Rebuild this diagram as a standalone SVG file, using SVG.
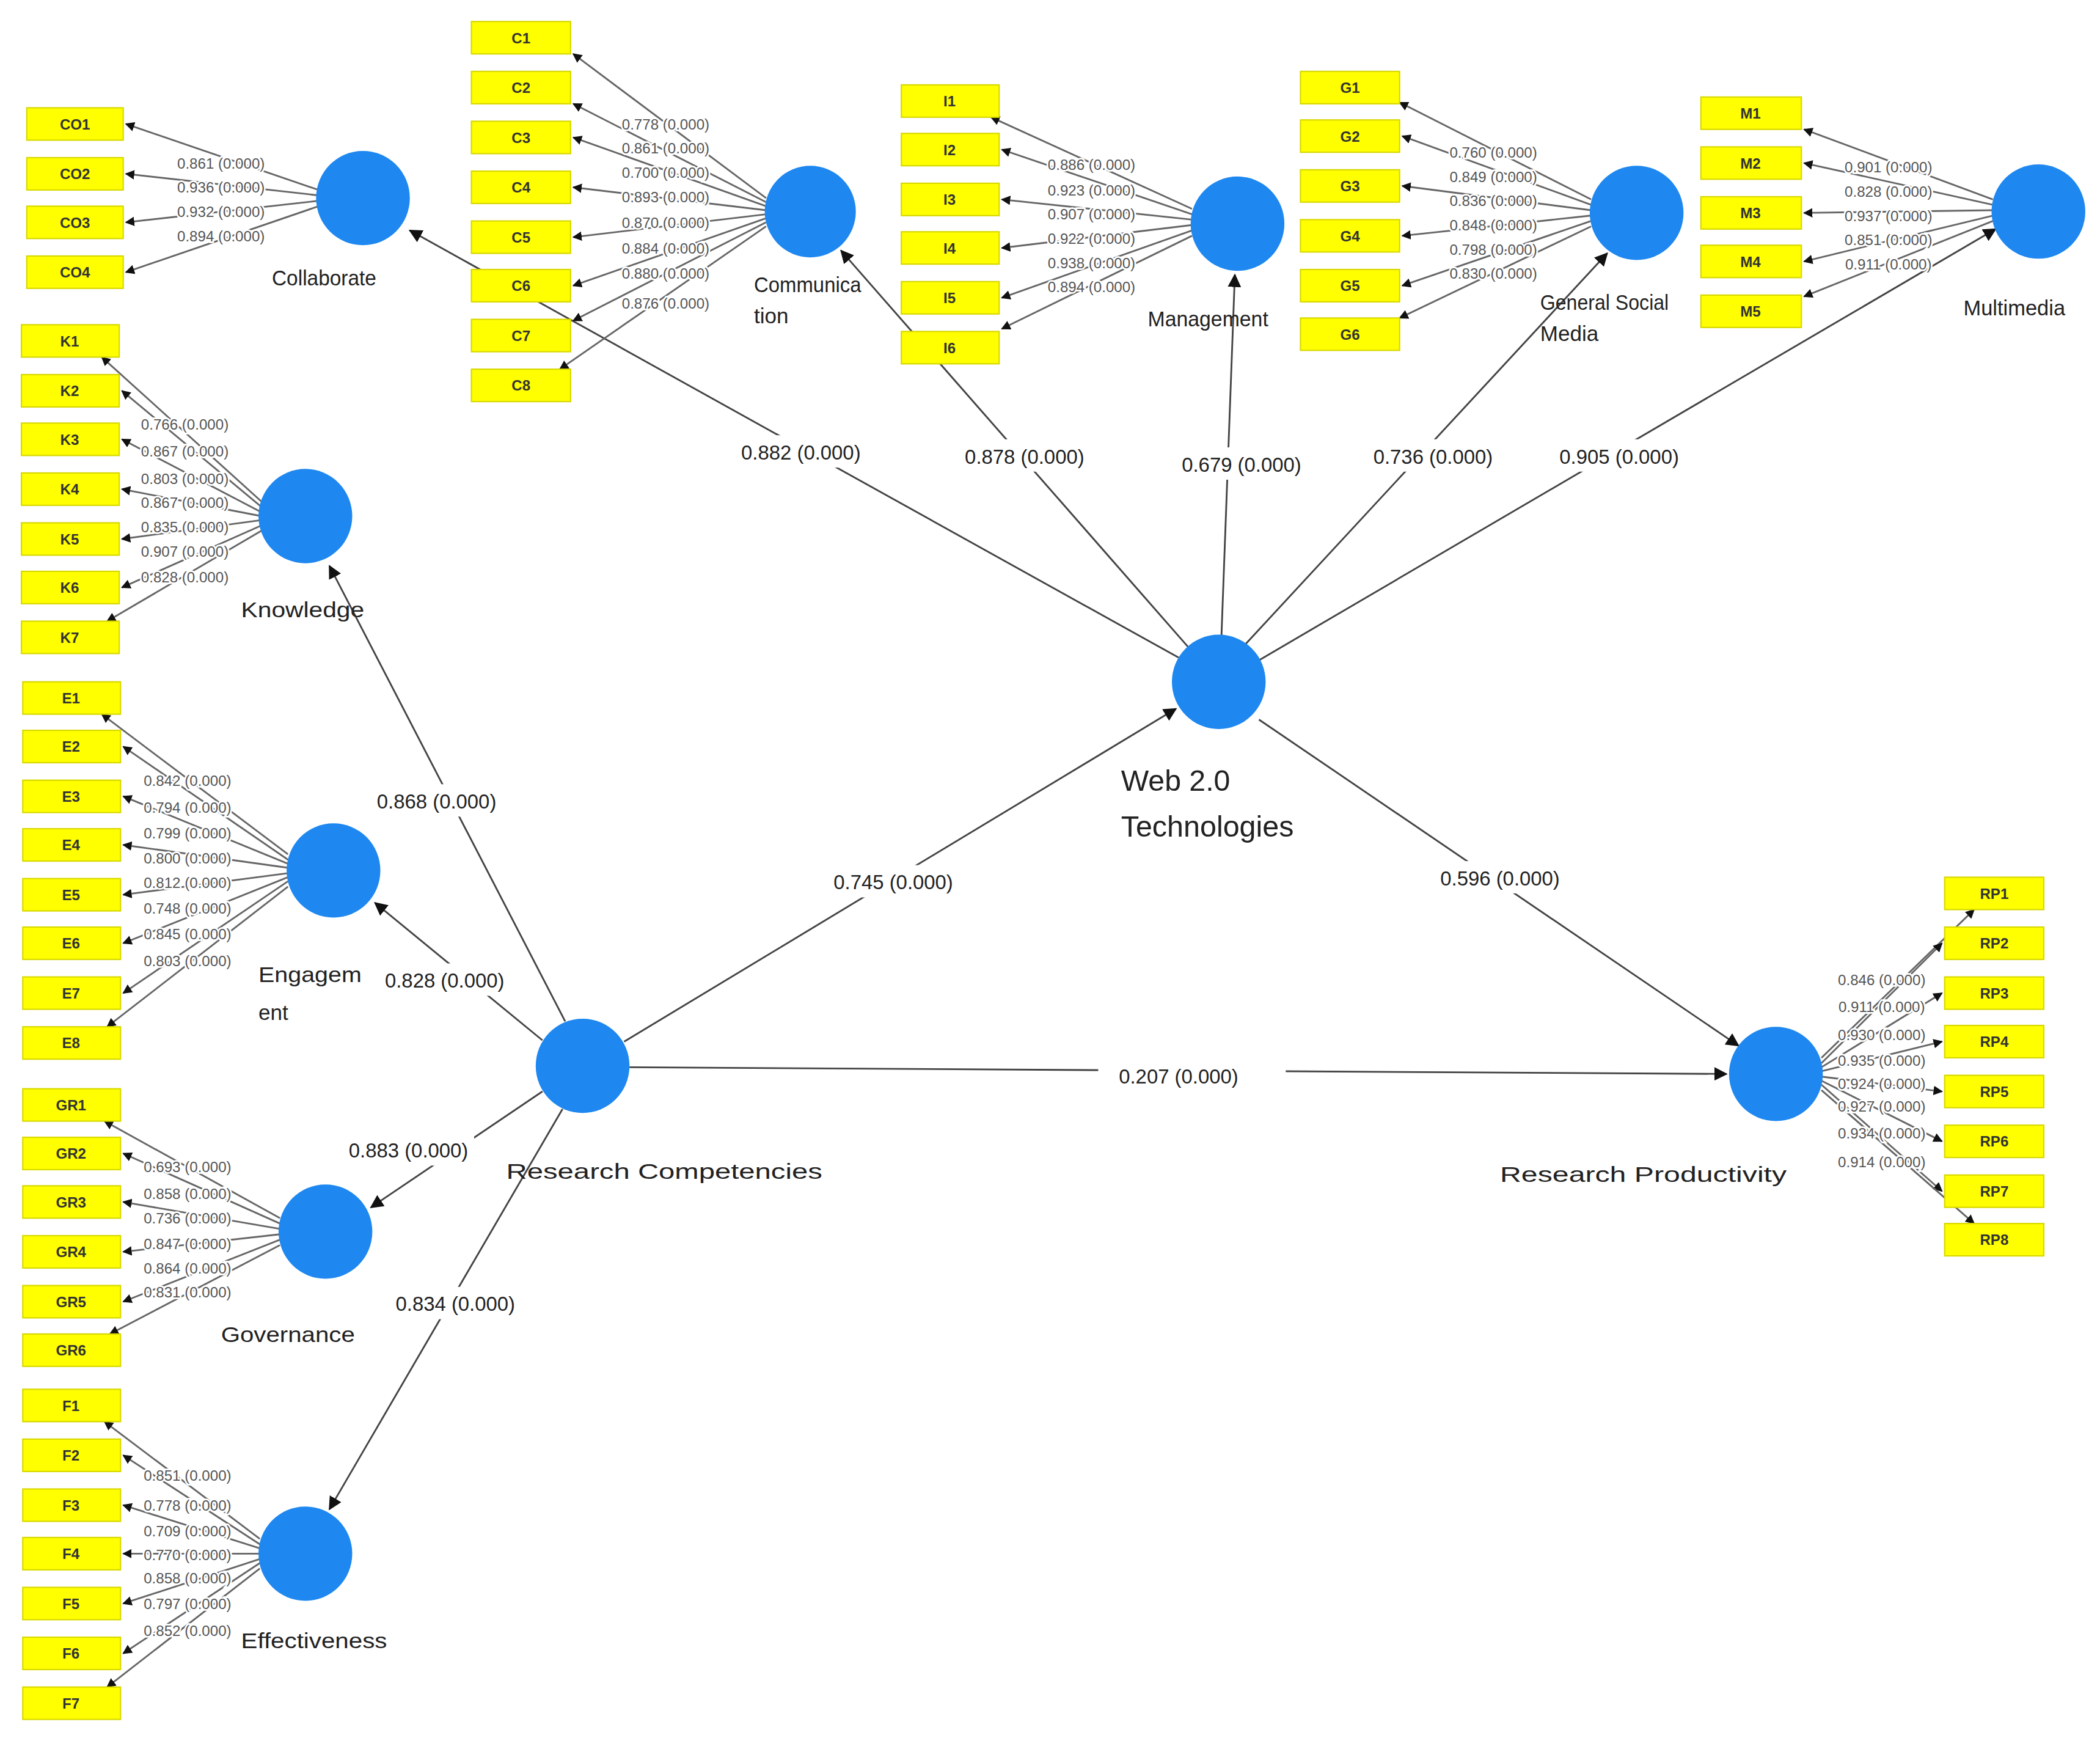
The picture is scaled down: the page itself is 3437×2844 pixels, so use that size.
<svg xmlns="http://www.w3.org/2000/svg" width="3437" height="2844" viewBox="0 0 3437 2844">
<defs>
<marker id="ah" viewBox="0 0 10 10" refX="9" refY="5" markerWidth="7" markerHeight="7" markerUnits="userSpaceOnUse" orient="auto"><path d="M0,0L10,5L0,10z" fill="#111"/></marker>
<marker id="ahb" viewBox="0 0 10 10" refX="9" refY="5" markerWidth="10" markerHeight="10" markerUnits="userSpaceOnUse" orient="auto"><path d="M0,0L10,5L0,10z" fill="#111"/></marker>
<style>
.box{fill:#ffff00;stroke:#d8d800;stroke-width:1}
.bt{font-family:"Liberation Sans",Arial,sans-serif;font-size:11px;font-weight:bold;fill:#333;text-anchor:middle}
.lv{font-family:"Liberation Sans",Arial,sans-serif;font-size:11px;fill:#555;text-anchor:middle;stroke:#fff;stroke-width:2.5px;paint-order:stroke}
.ld{stroke:#666;stroke-width:1.3;fill:none;marker-end:url(#ah)}
.pl{stroke:#444;stroke-width:1.3;fill:none;marker-end:url(#ahb)}
.pt{font-family:"Liberation Sans",Arial,sans-serif;font-size:15px;fill:#222;text-anchor:middle}
.cn{fill:#1e88f0}
.ct{font-family:"Liberation Sans",Arial,sans-serif;font-size:16px;fill:#222}
.cb{font-family:"Liberation Sans",Arial,sans-serif;font-size:22px;fill:#222}
.bg{fill:#fff}
</style>
</defs>
<rect width="3437" height="2844" fill="#fff"/>
<g transform="scale(2.192,2.205)">
<g id="connectors">
<line class="pl" x1="880" y1="488" x2="306" y2="171"/>
<line class="pl" x1="887" y1="480" x2="628" y2="186"/>
<line class="pl" x1="912" y1="472" x2="922" y2="204"/>
<line class="pl" x1="930" y1="478" x2="1200" y2="188"/>
<line class="pl" x1="940" y1="490" x2="1490" y2="170"/>
<line class="pl" x1="422" y1="758" x2="246" y2="420"/>
<line class="pl" x1="405" y1="772" x2="280" y2="670"/>
<line class="pl" x1="405" y1="810" x2="277" y2="896"/>
<line class="pl" x1="420" y1="823" x2="246" y2="1120"/>
<line class="pl" x1="466" y1="773" x2="878" y2="526"/>
<line class="pl" x1="940" y1="534" x2="1298" y2="776"/>
<line class="pl" x1="470" y1="792" x2="1289" y2="797"/>
<rect class="bg" x="550" y="323" width="98" height="24"/><text class="pt" x="598" y="341">0.882 (0.000)</text>
<rect class="bg" x="716" y="326" width="98" height="24"/><text class="pt" x="765" y="344">0.878 (0.000)</text>
<rect class="bg" x="878" y="332" width="98" height="24"/><text class="pt" x="927" y="350">0.679 (0.000)</text>
<rect class="bg" x="1021" y="326" width="98" height="24"/><text class="pt" x="1070" y="344">0.736 (0.000)</text>
<rect class="bg" x="1160" y="326" width="98" height="24"/><text class="pt" x="1209" y="344">0.905 (0.000)</text>
<rect class="bg" x="277" y="582" width="98" height="24"/><text class="pt" x="326" y="600">0.868 (0.000)</text>
<rect class="bg" x="283" y="715" width="98" height="24"/><text class="pt" x="332" y="733">0.828 (0.000)</text>
<rect class="bg" x="256" y="841" width="98" height="24"/><text class="pt" x="305" y="859">0.883 (0.000)</text>
<rect class="bg" x="291" y="955" width="98" height="24"/><text class="pt" x="340" y="973">0.834 (0.000)</text>
<rect class="bg" x="618" y="642" width="98" height="24"/><text class="pt" x="667" y="660">0.745 (0.000)</text>
<rect class="bg" x="1071" y="639" width="98" height="24"/><text class="pt" x="1120" y="657">0.596 (0.000)</text>
<rect class="bg" x="820" y="786" width="140" height="24"/><text class="pt" x="880" y="804">0.207 (0.000)</text>
<line class="ld" x1="238" y1="141" x2="94" y2="92"/>
<line class="ld" x1="238" y1="145" x2="94" y2="129"/>
<line class="ld" x1="238" y1="149" x2="94" y2="165"/>
<line class="ld" x1="238" y1="153" x2="94" y2="202"/>
<text class="lv" x="165" y="125">0.861 (0.000)</text><text class="lv" x="165" y="143">0.936 (0.000)</text><text class="lv" x="165" y="161">0.932 (0.000)</text><text class="lv" x="165" y="179">0.894 (0.000)</text>
<line class="ld" x1="572" y1="147" x2="428" y2="40"/>
<line class="ld" x1="572" y1="150" x2="428" y2="77"/>
<line class="ld" x1="572" y1="153" x2="428" y2="102"/>
<line class="ld" x1="572" y1="156" x2="428" y2="139"/>
<line class="ld" x1="572" y1="159" x2="428" y2="176"/>
<line class="ld" x1="572" y1="162" x2="428" y2="212"/>
<line class="ld" x1="572" y1="165" x2="428" y2="238"/>
<line class="ld" x1="572" y1="168" x2="418" y2="274"/>
<text class="lv" x="497" y="96">0.778 (0.000)</text><text class="lv" x="497" y="114">0.861 (0.000)</text><text class="lv" x="497" y="132">0.700 (0.000)</text><text class="lv" x="497" y="150">0.893 (0.000)</text><text class="lv" x="497" y="169">0.870 (0.000)</text><text class="lv" x="497" y="188">0.884 (0.000)</text><text class="lv" x="497" y="207">0.880 (0.000)</text><text class="lv" x="497" y="229">0.876 (0.000)</text>
<line class="ld" x1="890" y1="155" x2="740" y2="87"/>
<line class="ld" x1="890" y1="159" x2="748" y2="111"/>
<line class="ld" x1="890" y1="163" x2="748" y2="148"/>
<line class="ld" x1="890" y1="167" x2="748" y2="184"/>
<line class="ld" x1="890" y1="171" x2="748" y2="221"/>
<line class="ld" x1="890" y1="175" x2="748" y2="244"/>
<text class="lv" x="815" y="126">0.886 (0.000)</text><text class="lv" x="815" y="145">0.923 (0.000)</text><text class="lv" x="815" y="163">0.907 (0.000)</text><text class="lv" x="815" y="181">0.922 (0.000)</text><text class="lv" x="815" y="199">0.938 (0.000)</text><text class="lv" x="815" y="217">0.894 (0.000)</text>
<line class="ld" x1="1188" y1="148" x2="1045" y2="76"/>
<line class="ld" x1="1188" y1="152" x2="1047" y2="101"/>
<line class="ld" x1="1188" y1="156" x2="1047" y2="138"/>
<line class="ld" x1="1188" y1="160" x2="1047" y2="175"/>
<line class="ld" x1="1188" y1="164" x2="1047" y2="212"/>
<line class="ld" x1="1188" y1="168" x2="1045" y2="236"/>
<text class="lv" x="1115" y="117">0.760 (0.000)</text><text class="lv" x="1115" y="135">0.849 (0.000)</text><text class="lv" x="1115" y="153">0.836 (0.000)</text><text class="lv" x="1115" y="171">0.848 (0.000)</text><text class="lv" x="1115" y="189">0.798 (0.000)</text><text class="lv" x="1115" y="207">0.830 (0.000)</text>
<line class="ld" x1="1488" y1="148" x2="1347" y2="96"/>
<line class="ld" x1="1488" y1="152" x2="1347" y2="121"/>
<line class="ld" x1="1488" y1="156" x2="1347" y2="158"/>
<line class="ld" x1="1488" y1="160" x2="1347" y2="194"/>
<line class="ld" x1="1488" y1="164" x2="1347" y2="220"/>
<text class="lv" x="1410" y="128">0.901 (0.000)</text><text class="lv" x="1410" y="146">0.828 (0.000)</text><text class="lv" x="1410" y="164">0.937 (0.000)</text><text class="lv" x="1410" y="182">0.851 (0.000)</text><text class="lv" x="1410" y="200">0.911 (0.000)</text>
<line class="ld" x1="195" y1="372" x2="76" y2="265"/>
<line class="ld" x1="195" y1="376" x2="91" y2="290"/>
<line class="ld" x1="195" y1="380" x2="91" y2="326"/>
<line class="ld" x1="195" y1="383" x2="91" y2="363"/>
<line class="ld" x1="195" y1="386" x2="91" y2="400"/>
<line class="ld" x1="195" y1="390" x2="91" y2="436"/>
<line class="ld" x1="195" y1="394" x2="80" y2="461"/>
<text class="lv" x="138" y="319">0.766 (0.000)</text><text class="lv" x="138" y="339">0.867 (0.000)</text><text class="lv" x="138" y="359">0.803 (0.000)</text><text class="lv" x="138" y="377">0.867 (0.000)</text><text class="lv" x="138" y="395">0.835 (0.000)</text><text class="lv" x="138" y="413">0.907 (0.000)</text><text class="lv" x="138" y="432">0.828 (0.000)</text>
<line class="ld" x1="215" y1="634" x2="76" y2="530"/>
<line class="ld" x1="215" y1="638" x2="92" y2="554"/>
<line class="ld" x1="215" y1="641" x2="92" y2="591"/>
<line class="ld" x1="215" y1="644" x2="92" y2="627"/>
<line class="ld" x1="215" y1="648" x2="92" y2="664"/>
<line class="ld" x1="215" y1="651" x2="92" y2="700"/>
<line class="ld" x1="215" y1="654" x2="92" y2="737"/>
<line class="ld" x1="215" y1="658" x2="80" y2="762"/>
<text class="lv" x="140" y="583">0.842 (0.000)</text><text class="lv" x="140" y="603">0.794 (0.000)</text><text class="lv" x="140" y="622">0.799 (0.000)</text><text class="lv" x="140" y="641">0.800 (0.000)</text><text class="lv" x="140" y="659">0.812 (0.000)</text><text class="lv" x="140" y="678">0.748 (0.000)</text><text class="lv" x="140" y="697">0.845 (0.000)</text><text class="lv" x="140" y="717">0.803 (0.000)</text>
<line class="ld" x1="209" y1="904" x2="78" y2="832"/>
<line class="ld" x1="209" y1="908" x2="92" y2="856"/>
<line class="ld" x1="209" y1="912" x2="92" y2="892"/>
<line class="ld" x1="209" y1="916" x2="92" y2="929"/>
<line class="ld" x1="209" y1="920" x2="92" y2="966"/>
<line class="ld" x1="209" y1="924" x2="82" y2="990"/>
<text class="lv" x="140" y="870">0.693 (0.000)</text><text class="lv" x="140" y="890">0.858 (0.000)</text><text class="lv" x="140" y="908">0.736 (0.000)</text><text class="lv" x="140" y="927">0.847 (0.000)</text><text class="lv" x="140" y="945">0.864 (0.000)</text><text class="lv" x="140" y="963">0.831 (0.000)</text>
<line class="ld" x1="194" y1="1142" x2="78" y2="1055"/>
<line class="ld" x1="194" y1="1146" x2="92" y2="1080"/>
<line class="ld" x1="194" y1="1149" x2="92" y2="1117"/>
<line class="ld" x1="194" y1="1153" x2="92" y2="1153"/>
<line class="ld" x1="194" y1="1157" x2="92" y2="1190"/>
<line class="ld" x1="194" y1="1160" x2="92" y2="1227"/>
<line class="ld" x1="194" y1="1164" x2="80" y2="1252"/>
<text class="lv" x="140" y="1099">0.851 (0.000)</text><text class="lv" x="140" y="1121">0.778 (0.000)</text><text class="lv" x="140" y="1140">0.709 (0.000)</text><text class="lv" x="140" y="1158">0.770 (0.000)</text><text class="lv" x="140" y="1175">0.858 (0.000)</text><text class="lv" x="140" y="1194">0.797 (0.000)</text><text class="lv" x="140" y="1214">0.852 (0.000)</text>
<line class="ld" x1="1360" y1="785" x2="1474" y2="675"/>
<line class="ld" x1="1360" y1="789" x2="1450" y2="700"/>
<line class="ld" x1="1360" y1="792" x2="1450" y2="737"/>
<line class="ld" x1="1360" y1="795" x2="1450" y2="773"/>
<line class="ld" x1="1360" y1="799" x2="1450" y2="810"/>
<line class="ld" x1="1360" y1="802" x2="1450" y2="847"/>
<line class="ld" x1="1360" y1="805" x2="1450" y2="884"/>
<line class="ld" x1="1360" y1="809" x2="1474" y2="908"/>
<text class="lv" x="1405" y="731">0.846 (0.000)</text><text class="lv" x="1405" y="751">0.911 (0.000)</text><text class="lv" x="1405" y="772">0.930 (0.000)</text><text class="lv" x="1405" y="791">0.935 (0.000)</text><text class="lv" x="1405" y="808">0.924 (0.000)</text><text class="lv" x="1405" y="825">0.927 (0.000)</text><text class="lv" x="1405" y="845">0.934 (0.000)</text><text class="lv" x="1405" y="866">0.914 (0.000)</text>
</g>
<g id="collaborate"><circle class="cn" cx="271" cy="147" r="35"/><text class="ct" x="203" y="212" font-size="15" textLength="78" lengthAdjust="spacingAndGlyphs">Collaborate</text>
<rect class="box" x="20" y="80" width="72" height="24"/><text class="bt" x="56" y="96">CO1</text>
<rect class="box" x="20" y="117" width="72" height="24"/><text class="bt" x="56" y="133">CO2</text>
<rect class="box" x="20" y="153" width="72" height="24"/><text class="bt" x="56" y="169">CO3</text>
<rect class="box" x="20" y="190" width="72" height="24"/><text class="bt" x="56" y="206">CO4</text></g>
<g id="communication"><circle class="cn" cx="605" cy="157" r="34"/><text class="ct" x="563" y="217" textLength="80" lengthAdjust="spacingAndGlyphs">Communica</text><text class="ct" x="563" y="240">tion</text>
<rect class="box" x="352" y="16" width="74" height="24"/><text class="bt" x="389" y="32">C1</text>
<rect class="box" x="352" y="53" width="74" height="24"/><text class="bt" x="389" y="69">C2</text>
<rect class="box" x="352" y="90" width="74" height="24"/><text class="bt" x="389" y="106">C3</text>
<rect class="box" x="352" y="127" width="74" height="24"/><text class="bt" x="389" y="143">C4</text>
<rect class="box" x="352" y="164" width="74" height="24"/><text class="bt" x="389" y="180">C5</text>
<rect class="box" x="352" y="200" width="74" height="24"/><text class="bt" x="389" y="216">C6</text>
<rect class="box" x="352" y="237" width="74" height="24"/><text class="bt" x="389" y="253">C7</text>
<rect class="box" x="352" y="274" width="74" height="24"/><text class="bt" x="389" y="290">C8</text></g>
<g id="management"><circle class="cn" cx="924" cy="166" r="35"/><text class="ct" x="857" y="242" textLength="90" lengthAdjust="spacingAndGlyphs">Management</text>
<rect class="box" x="673" y="63" width="73" height="24"/><text class="bt" x="709" y="79">I1</text>
<rect class="box" x="673" y="99" width="73" height="24"/><text class="bt" x="709" y="115">I2</text>
<rect class="box" x="673" y="136" width="73" height="24"/><text class="bt" x="709" y="152">I3</text>
<rect class="box" x="673" y="172" width="73" height="24"/><text class="bt" x="709" y="188">I4</text>
<rect class="box" x="673" y="209" width="73" height="24"/><text class="bt" x="709" y="225">I5</text>
<rect class="box" x="673" y="246" width="73" height="24"/><text class="bt" x="709" y="262">I6</text></g>
<g id="general-social-media"><circle class="cn" cx="1222" cy="158" r="35"/><text class="ct" x="1150" y="230" textLength="96" lengthAdjust="spacingAndGlyphs">General Social</text><text class="ct" x="1150" y="253">Media</text>
<rect class="box" x="971" y="53" width="74" height="24"/><text class="bt" x="1008" y="69">G1</text>
<rect class="box" x="971" y="89" width="74" height="24"/><text class="bt" x="1008" y="105">G2</text>
<rect class="box" x="971" y="126" width="74" height="24"/><text class="bt" x="1008" y="142">G3</text>
<rect class="box" x="971" y="163" width="74" height="24"/><text class="bt" x="1008" y="179">G4</text>
<rect class="box" x="971" y="200" width="74" height="24"/><text class="bt" x="1008" y="216">G5</text>
<rect class="box" x="971" y="236" width="74" height="24"/><text class="bt" x="1008" y="252">G6</text></g>
<g id="multimedia"><circle class="cn" cx="1522" cy="157" r="35"/><text class="ct" x="1466" y="234" textLength="76" lengthAdjust="spacingAndGlyphs">Multimedia</text>
<rect class="box" x="1270" y="72" width="75" height="24"/><text class="bt" x="1307" y="88">M1</text>
<rect class="box" x="1270" y="109" width="75" height="24"/><text class="bt" x="1307" y="125">M2</text>
<rect class="box" x="1270" y="146" width="75" height="24"/><text class="bt" x="1307" y="162">M3</text>
<rect class="box" x="1270" y="182" width="75" height="24"/><text class="bt" x="1307" y="198">M4</text>
<rect class="box" x="1270" y="219" width="75" height="24"/><text class="bt" x="1307" y="235">M5</text></g>
<g id="knowledge"><circle class="cn" cx="228" cy="383" r="35"/><text class="ct" x="180" y="458" font-size="19" textLength="92" lengthAdjust="spacingAndGlyphs">Knowledge</text>
<rect class="box" x="16" y="241" width="73" height="24"/><text class="bt" x="52" y="257">K1</text>
<rect class="box" x="16" y="278" width="73" height="24"/><text class="bt" x="52" y="294">K2</text>
<rect class="box" x="16" y="314" width="73" height="24"/><text class="bt" x="52" y="330">K3</text>
<rect class="box" x="16" y="351" width="73" height="24"/><text class="bt" x="52" y="367">K4</text>
<rect class="box" x="16" y="388" width="73" height="24"/><text class="bt" x="52" y="404">K5</text>
<rect class="box" x="16" y="424" width="73" height="24"/><text class="bt" x="52" y="440">K6</text>
<rect class="box" x="16" y="461" width="73" height="24"/><text class="bt" x="52" y="477">K7</text></g>
<g id="engagement"><circle class="cn" cx="249" cy="646" r="35"/><text class="ct" x="193" y="729" font-size="19" textLength="77" lengthAdjust="spacingAndGlyphs">Engagem</text><text class="ct" x="193" y="757" font-size="19">ent</text>
<rect class="box" x="17" y="506" width="73" height="24"/><text class="bt" x="53" y="522">E1</text>
<rect class="box" x="17" y="542" width="73" height="24"/><text class="bt" x="53" y="558">E2</text>
<rect class="box" x="17" y="579" width="73" height="24"/><text class="bt" x="53" y="595">E3</text>
<rect class="box" x="17" y="615" width="73" height="24"/><text class="bt" x="53" y="631">E4</text>
<rect class="box" x="17" y="652" width="73" height="24"/><text class="bt" x="53" y="668">E5</text>
<rect class="box" x="17" y="688" width="73" height="24"/><text class="bt" x="53" y="704">E6</text>
<rect class="box" x="17" y="725" width="73" height="24"/><text class="bt" x="53" y="741">E7</text>
<rect class="box" x="17" y="762" width="73" height="24"/><text class="bt" x="53" y="778">E8</text></g>
<g id="governance"><circle class="cn" cx="243" cy="914" r="35"/><text class="ct" x="165" y="996" font-size="19" textLength="100" lengthAdjust="spacingAndGlyphs">Governance</text>
<rect class="box" x="17" y="808" width="73" height="24"/><text class="bt" x="53" y="824">GR1</text>
<rect class="box" x="17" y="844" width="73" height="24"/><text class="bt" x="53" y="860">GR2</text>
<rect class="box" x="17" y="880" width="73" height="24"/><text class="bt" x="53" y="896">GR3</text>
<rect class="box" x="17" y="917" width="73" height="24"/><text class="bt" x="53" y="933">GR4</text>
<rect class="box" x="17" y="954" width="73" height="24"/><text class="bt" x="53" y="970">GR5</text>
<rect class="box" x="17" y="990" width="73" height="24"/><text class="bt" x="53" y="1006">GR6</text></g>
<g id="effectiveness"><circle class="cn" cx="228" cy="1153" r="35"/><text class="ct" x="180" y="1223" font-size="19" textLength="109" lengthAdjust="spacingAndGlyphs">Effectiveness</text>
<rect class="box" x="17" y="1031" width="73" height="24"/><text class="bt" x="53" y="1047">F1</text>
<rect class="box" x="17" y="1068" width="73" height="24"/><text class="bt" x="53" y="1084">F2</text>
<rect class="box" x="17" y="1105" width="73" height="24"/><text class="bt" x="53" y="1121">F3</text>
<rect class="box" x="17" y="1141" width="73" height="24"/><text class="bt" x="53" y="1157">F4</text>
<rect class="box" x="17" y="1178" width="73" height="24"/><text class="bt" x="53" y="1194">F5</text>
<rect class="box" x="17" y="1215" width="73" height="24"/><text class="bt" x="53" y="1231">F6</text>
<rect class="box" x="17" y="1252" width="73" height="24"/><text class="bt" x="53" y="1268">F7</text></g>
<g id="web20"><circle class="cn" cx="910" cy="506" r="35"/><text class="cb" x="837" y="587" font-size="23">Web 2.0</text><text class="cb" x="837" y="621" font-size="23" textLength="129" lengthAdjust="spacingAndGlyphs">Technologies</text></g>
<g id="research-competencies"><circle class="cn" cx="435" cy="791" r="35"/><text class="ct" x="378" y="875" font-size="23" textLength="236" lengthAdjust="spacingAndGlyphs">Research Competencies</text></g>
<g id="research-productivity"><circle class="cn" cx="1326" cy="797" r="35"/><text class="ct" x="1120" y="877" font-size="23" textLength="214" lengthAdjust="spacingAndGlyphs">Research Productivity</text>
<rect class="box" x="1452" y="651" width="74" height="24"/><text class="bt" x="1489" y="667">RP1</text>
<rect class="box" x="1452" y="688" width="74" height="24"/><text class="bt" x="1489" y="704">RP2</text>
<rect class="box" x="1452" y="725" width="74" height="24"/><text class="bt" x="1489" y="741">RP3</text>
<rect class="box" x="1452" y="761" width="74" height="24"/><text class="bt" x="1489" y="777">RP4</text>
<rect class="box" x="1452" y="798" width="74" height="24"/><text class="bt" x="1489" y="814">RP5</text>
<rect class="box" x="1452" y="835" width="74" height="24"/><text class="bt" x="1489" y="851">RP6</text>
<rect class="box" x="1452" y="872" width="74" height="24"/><text class="bt" x="1489" y="888">RP7</text>
<rect class="box" x="1452" y="908" width="74" height="24"/><text class="bt" x="1489" y="924">RP8</text></g>
</g>
</svg>
